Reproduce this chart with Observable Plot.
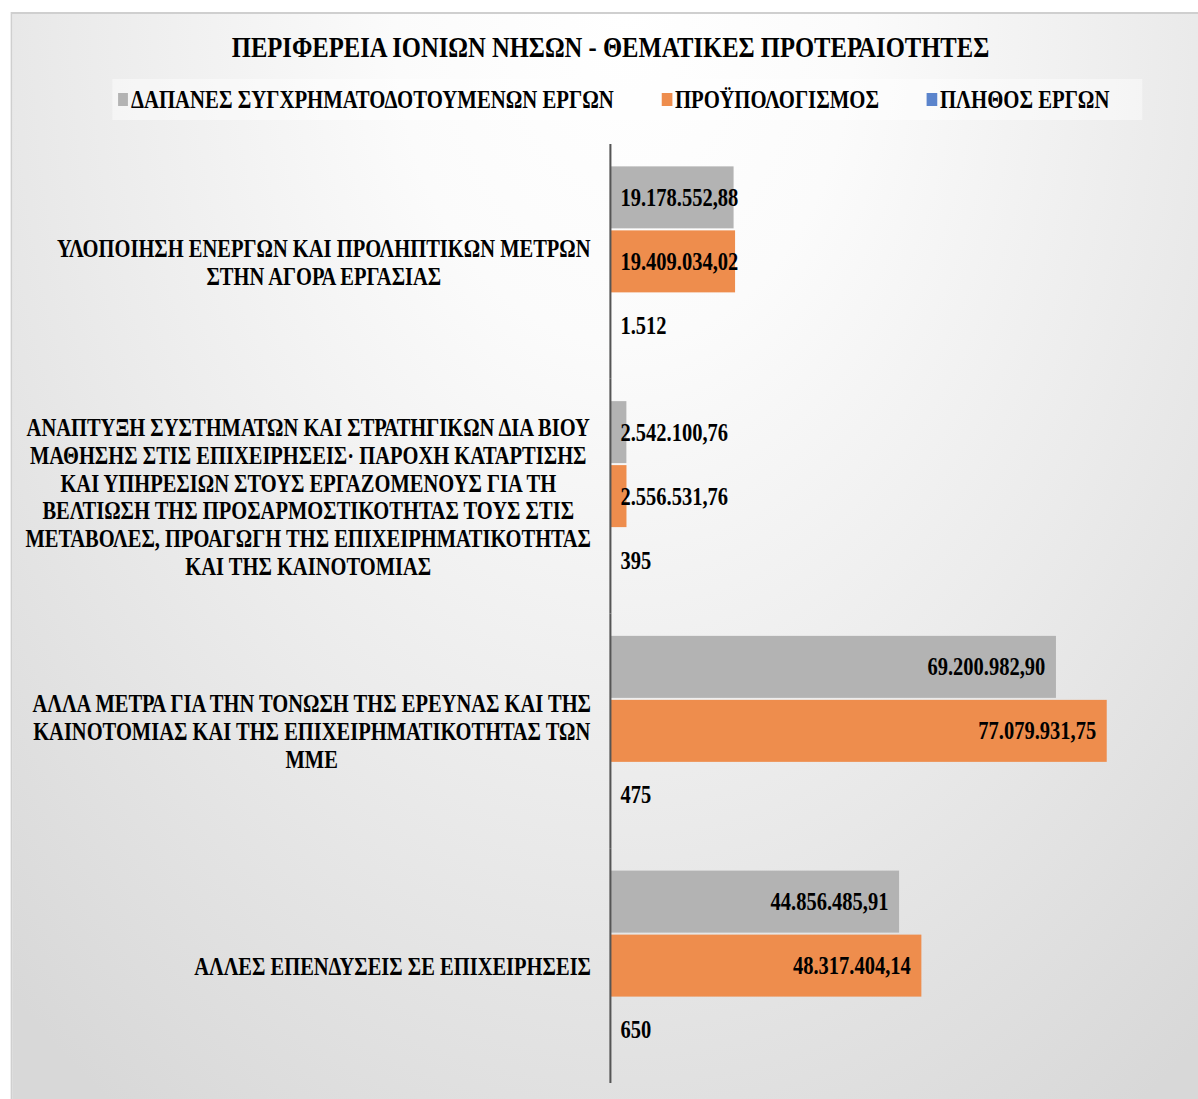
<!DOCTYPE html>
<html>
<head>
<meta charset="utf-8">
<script src="https://cdn.jsdelivr.net/npm/d3@7"></script>
<script src="https://cdn.jsdelivr.net/npm/@observablehq/plot@0.6"></script>
<style>
  html, body { margin: 0; padding: 0; background: #ffffff; overflow: hidden; width: 1198px; height: 1099px; }
  #wrap { position: absolute; left: 0; top: 0; height: 1099px; transform-origin: 0 0; font-family: "Liberation Serif", "Times New Roman", serif; font-weight: bold; color: #000; }
  #frame { position: absolute; top: 12px; height: 1200px; border: 2px solid #cfcfcf; box-sizing: border-box;
    background: radial-gradient(ellipse 75% 110% at 50% 0%, #ffffff 0%, #fbfbfb 25%, #ebebeb 60%, #d8d8d8 100%); }
  #title { position: absolute; top: 32px; left: 0; text-align: center; font-size: 30px; line-height: 30px; white-space: nowrap; }
  #legendband { position: absolute; top: 79px; height: 41px; background: rgba(255,255,255,0.45); }
  .lg { position: absolute; top: 87px; font-size: 25.3px; line-height: 25px; white-space: nowrap; }
  .sw { position: absolute; top: 93px; height: 13px; }
  #chart { position: absolute; left: 0; top: 0; }
</style>
</head>
<body>
<div id="wrap">
  <div id="frame"></div>
  <div id="legendband"></div>
  <div id="title"></div>
  <div id="legend"></div>
  <div id="chart"></div>
</div>
<script>
// ---- data ----
const categories = [
  "ΥΛΟΠΟΙΗΣΗ ΕΝΕΡΓΩΝ ΚΑΙ ΠΡΟΛΗΠΤΙΚΩΝ ΜΕΤΡΩΝ\nΣΤΗΝ ΑΓΟΡΑ ΕΡΓΑΣΙΑΣ",
  "ΑΝΑΠΤΥΞΗ ΣΥΣΤΗΜΑΤΩΝ ΚΑΙ ΣΤΡΑΤΗΓΙΚΩΝ ΔΙΑ ΒΙΟΥ\nΜΑΘΗΣΗΣ ΣΤΙΣ ΕΠΙΧΕΙΡΗΣΕΙΣ· ΠΑΡΟΧΗ ΚΑΤΑΡΤΙΣΗΣ\nΚΑΙ ΥΠΗΡΕΣΙΩΝ ΣΤΟΥΣ ΕΡΓΑΖΟΜΕΝΟΥΣ ΓΙΑ ΤΗ\nΒΕΛΤΙΩΣΗ ΤΗΣ ΠΡΟΣΑΡΜΟΣΤΙΚΟΤΗΤΑΣ ΤΟΥΣ ΣΤΙΣ\nΜΕΤΑΒΟΛΕΣ, ΠΡΟΑΓΩΓΗ ΤΗΣ ΕΠΙΧΕΙΡΗΜΑΤΙΚΟΤΗΤΑΣ\nΚΑΙ ΤΗΣ ΚΑΙΝΟΤΟΜΙΑΣ",
  "ΑΛΛΑ ΜΕΤΡΑ ΓΙΑ ΤΗΝ ΤΟΝΩΣΗ ΤΗΣ ΕΡΕΥΝΑΣ ΚΑΙ ΤΗΣ\nΚΑΙΝΟΤΟΜΙΑΣ ΚΑΙ ΤΗΣ ΕΠΙΧΕΙΡΗΜΑΤΙΚΟΤΗΤΑΣ ΤΩΝ\nΜΜΕ",
  "ΑΛΛΕΣ ΕΠΕΝΔΥΣΕΙΣ ΣΕ ΕΠΙΧΕΙΡΗΣΕΙΣ"
];
const series = ["ΔΑΠΑΝΕΣ ΣΥΓΧΡΗΜΑΤΟΔΟΤΟΥΜΕΝΩΝ ΕΡΓΩΝ", "ΠΡΟΫΠΟΛΟΓΙΣΜΟΣ", "ΠΛΗΘΟΣ ΕΡΓΩΝ"];
const spending = [19178552.88, 2542100.76, 69200982.90, 44856485.91];
const budget   = [19409034.02, 2556531.76, 77079931.75, 48317404.14];
const projects = [1512, 395, 475, 650];
const colors = ["#b3b3b3", "#ee8d4d", "#5b84cc"];
const titleText = "ΠΕΡΙΦΕΡΕΙΑ ΙΟΝΙΩΝ ΝΗΣΩΝ - ΘΕΜΑΤΙΚΕΣ ΠΡΟΤΕΡΑΙΟΤΗΤΕΣ";
const xMax = 90000000;

// ---- layout ----
const s = 0.82;             // horizontal condensation of the whole chart
const W = 1198 / s;
const P = v => v / s;       // final px -> pre-scale px

const wrap = document.getElementById("wrap");
wrap.style.width = W + "px";
wrap.style.transform = `scaleX(${s})`;

const frame = document.getElementById("frame");
frame.style.left = P(11) + "px";
frame.style.width = (W - P(11) + 50) + "px";

const band = document.getElementById("legendband");
band.style.left = P(112) + "px";
band.style.width = P(1030) + "px";

const title = document.getElementById("title");
title.textContent = titleText;
title.style.width = P(610.5) * 2 + "px";

const legend = document.getElementById("legend");
const swX = [118, 662, 927];
series.forEach((name, i) => {
  const sw = document.createElement("div");
  sw.className = "sw";
  sw.style.left = P(swX[i]) + "px";
  sw.style.width = P(10) + "px";
  sw.style.background = colors[i];
  legend.appendChild(sw);
  const t = document.createElement("div");
  t.className = "lg";
  t.style.left = P(swX[i] + 13) + "px";
  t.textContent = name;
  legend.appendChild(t);
});

// ---- rows ----
const rows = [];
categories.forEach((c, i) => {
  rows.push({category: c, series: series[0], value: spending[i]});
  rows.push({category: c, series: series[1], value: budget[i]});
  rows.push({category: c, series: series[2], value: projects[i]});
});

const loc = d3.formatLocale({decimal: ",", thousands: ".", grouping: [3], currency: ["", "€"]});
const fMoney = loc.format(",.2f");
const fInt = loc.format(",d");
const label = d => d.series === series[2] ? fInt(d.value) : fMoney(d.value);
const threshold = 25000000;

const chart = Plot.plot({
  width: W,
  height: 1099,
  marginTop: 144,
  marginBottom: 16,
  marginLeft: P(610),
  marginRight: P(8),
  style: {background: "transparent", fontFamily: "Liberation Serif, Times New Roman, serif", fontWeight: "bold", fontSize: "25px", color: "#000", overflow: "visible"},
  x: {domain: [0, xMax], axis: null},
  y: {domain: series, axis: null, paddingInner: 0, paddingOuter: 0.334, round: false},
  fy: {domain: categories, padding: 0, label: null, round: false},
  color: {domain: series, range: colors},
  marks: [
    Plot.axisFy({anchor: "left", tickSize: 0, tickPadding: 20, label: null, lineHeight: 1.115, fontSize: 25, fontWeight: "bold", fill: "#000"}),
    Plot.barX(rows, {fy: "category", y: "series", x: "value", fill: "series", insetTop: 1, insetBottom: 1}),
    Plot.ruleX([0], {stroke: "#555555", strokeWidth: 2.5}),
    Plot.text(rows.filter(d => d.series !== series[2] && d.value >= threshold), {
      fy: "category", y: "series", x: "value", text: label, textAnchor: "end", dx: -P(11),
      fontSize: 25, fontWeight: "bold", fill: "#000"
    }),
    Plot.text(rows.filter(d => d.series === series[2] || d.value < threshold), {
      fy: "category", y: "series", x: () => 0, text: label, textAnchor: "start", dx: P(10),
      fontSize: 25, fontWeight: "bold", fill: "#000"
    })
  ]
});
document.getElementById("chart").appendChild(chart);

// center each multi-line category label, with its right edge just left of the axis
let ticks = chart.querySelectorAll('[aria-label="fy-axis tick label"] text');
if (!ticks.length) ticks = chart.querySelectorAll('[aria-label^="fy-axis"] text');
const rightEdge = 591; // final page px
ticks.forEach(t => {
  t.setAttribute("text-anchor", "middle");
  const r = t.getBoundingClientRect();
  const shift = (rightEdge - r.right) / s;
  const tr = t.getAttribute("transform") || "";
  t.setAttribute("transform", tr + ` translate(${shift},0)`);
});
</script>
</body>
</html>
